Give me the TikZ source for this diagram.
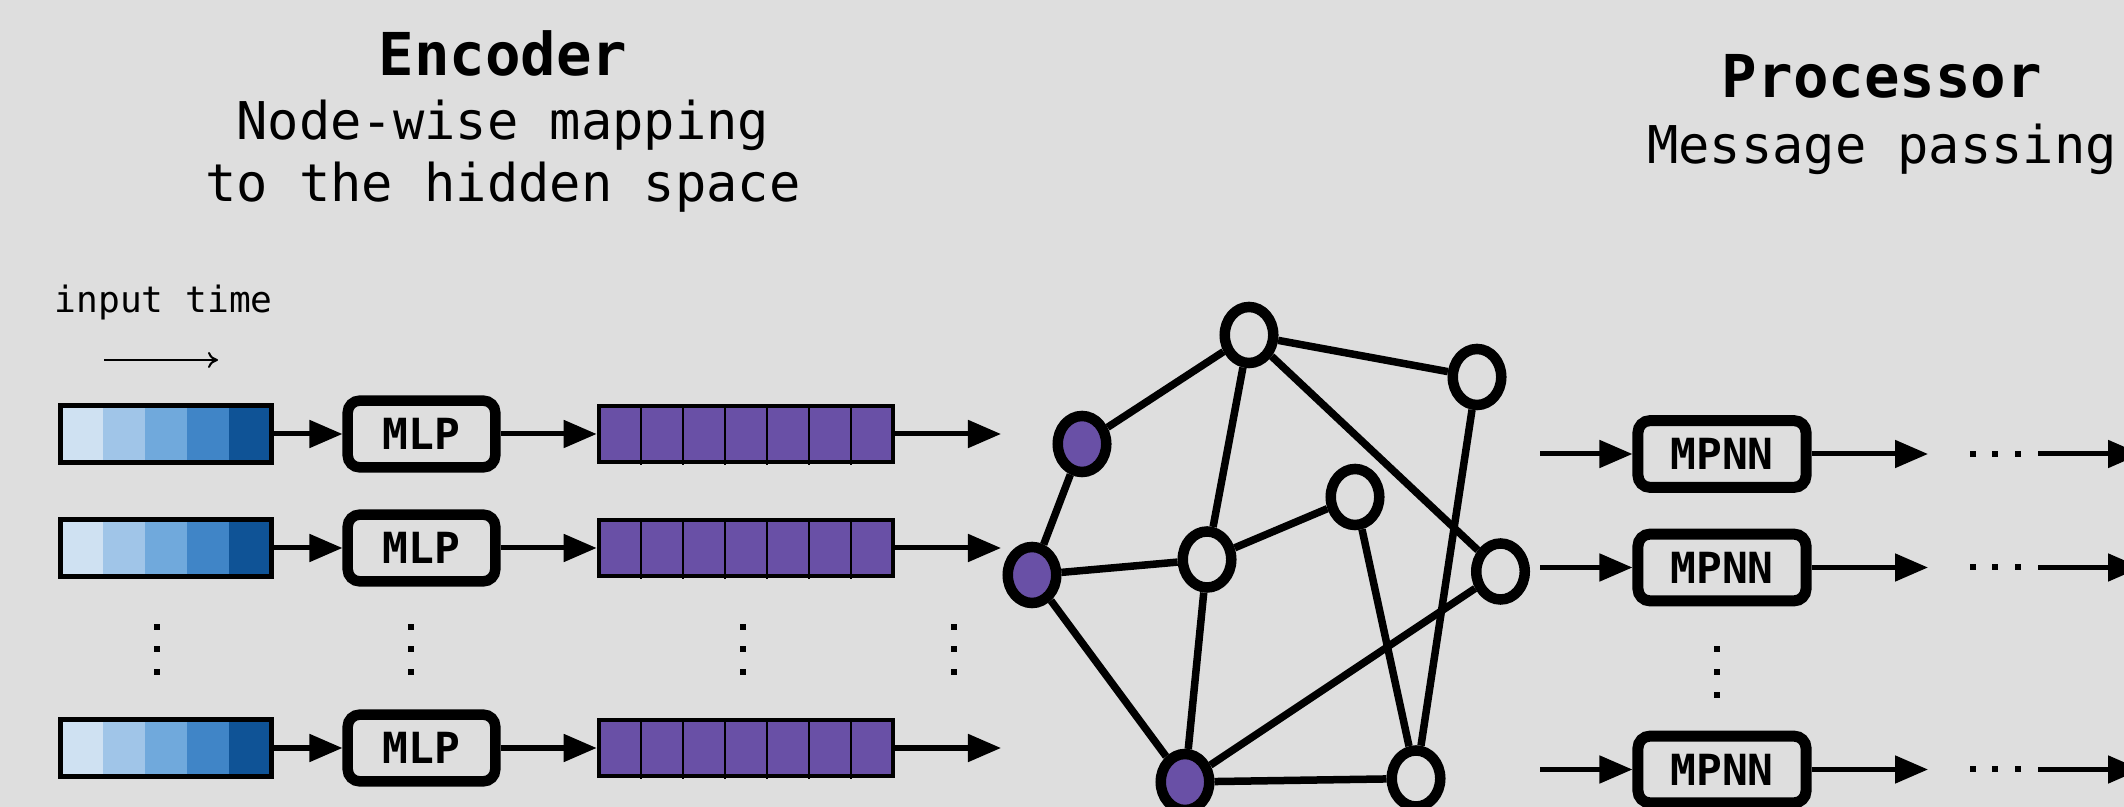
\documentclass[tikz,border=0pt]{standalone}
\usepackage{fontspec}
\usetikzlibrary{arrows.meta,shapes.geometric}
\newfontfamily\dvmono{DejaVu Sans Mono}
\definecolor{bgc}{HTML}{DEDEDE}
\definecolor{vpurple}{HTML}{6950A6}
\definecolor{blueA}{HTML}{CFE1F2}
\definecolor{blueB}{HTML}{A0C5E8}
\definecolor{blueC}{HTML}{70A9DC}
\definecolor{blueD}{HTML}{4085C7}
\definecolor{blueE}{HTML}{0F5396}
\begin{document}
\begin{tikzpicture}[x=0.01cm,y=-0.01cm,
  arr/.style={line width=0.05cm,-{Triangle[length=0.33cm,width=0.27cm]}},
  edge/.style={line width=0.075cm},
  gnode/.style={ellipse,draw,line width=0.105cm,minimum width=0.485cm,minimum height=0.56cm,inner sep=0pt},
  pnode/.style={gnode,fill=vpurple},
  wnode/.style={gnode,fill=bgc},
  boxlabel/.style={font=\dvmono\bfseries\fontsize{12.2pt}{14pt}\selectfont},
  mlpbox/.style={boxlabel,draw,line width=0.105cm,rounded corners=0.12cm,minimum width=1.475cm,minimum height=0.667cm,inner sep=0pt},
  mpnnbox/.style={boxlabel,draw,line width=0.11cm,rounded corners=0.12cm,minimum width=1.68cm,minimum height=0.667cm,inner sep=0pt},
  blueframe/.style={draw,line width=0.05cm,minimum width=2.1cm,minimum height=0.56cm,inner sep=0pt},
  purpleframe/.style={draw,line width=0.045cm,minimum width=2.94cm,minimum height=0.56cm,inner sep=0pt},
  titletext/.style={anchor=base,inner sep=0pt,font=\dvmono\bfseries\fontsize{16.8pt}{20pt}\selectfont},
  subtext/.style={anchor=base,inner sep=0pt,font=\dvmono\fontsize{14.8pt}{18pt}\selectfont},
  smalltext/.style={anchor=base west,inner sep=0pt,font=\dvmono\fontsize{10.3pt}{12pt}\selectfont}]

\useasboundingbox (0,0) rectangle (2124,807);
\clip (0,0) rectangle (2124,807);
\fill[bgc] (0,0) rectangle (2124,807);

% ---------- headings ----------
\node[titletext] (enct) at (503,76) {Encoder};
\node[subtext] (encs1) at (503,140) {Node-wise mapping};
\node[subtext] (encs2) at (503,202) {to the hidden space};
\node[titletext] (proct) at (1882,98) {Processor};
\node[subtext] (procs) at (1882,164) {Message passing};

% ---------- time direction ----------
\node[smalltext] (itime) at (54,313) {input time};
\coordinate (ta) at (104,360);
\coordinate (tb) at (218,360);
\draw[line width=0.02cm,-{To[length=0.1cm,width=0.16cm]}] (ta) -- (tb);

% ---------- encoder rows ----------
\foreach \r/\y in {1/434,2/548,3/748} {
  % input window, coloured by time step
  \foreach \c [count=\k from 0] in {blueA,blueB,blueC,blueD,blueE}
    \fill[\c] (61+42*\k,\y-28) rectangle ++(42,56);
  \node[blueframe] (in\r) at (166,\y) {};
  % node-wise MLP
  \node[mlpbox] (mlp\r) at (421.5,\y) {MLP};
  % hidden representation
  \fill[vpurple] (599,\y-28) rectangle ++(294,56);
  \foreach \k in {1,...,6}
    \draw[line width=0.02cm] (599+42*\k,\y-28) -- (599+42*\k,\y+31);
  \node[purpleframe] (hid\r) at (746,\y) {};
  \coordinate (eo\r) at (1001,\y);
  \draw[arr] (in\r.east) -- (mlp\r.west);
  \draw[arr] (mlp\r.east) -- (hid\r.west);
  \draw[arr] (hid\r.east) -- (eo\r);
}

% vertical ellipses of the encoder
\foreach \x in {157,410.5,743,954}
  \foreach \yy in {627,649.5,672}
    \fill (\x-3,\yy-3) rectangle ++(6,6);

% ---------- graph ----------
\node[pnode] (ga) at (1082,444) {};
\node[pnode] (gb) at (1032,575) {};
\node[pnode] (gc) at (1185,782) {};
\node[wnode] (w1) at (1249,335) {};
\node[wnode] (w2) at (1477,377) {};
\node[wnode] (w3) at (1207,559.5) {};
\node[wnode] (w4) at (1355,497) {};
\node[wnode] (w5) at (1500.5,571.5) {};
\node[wnode] (w6) at (1416,778.5) {};
\foreach \a/\b in {ga/w1,ga/gb,gb/w3,gb/gc,w1/w2,w1/w3,w1/w5,w2/w6,w3/w4,w3/gc,w4/w6,w5/gc,gc/w6}
  \draw[edge] (\a) -- (\b);

% ---------- processor rows ----------
\foreach \r/\y in {1/454,2/567.5,3/769.5} {
  \coordinate (pi\r) at (1540,\y);
  \node[mpnnbox] (mp\r) at (1722,\y) {MPNN};
  \coordinate (po\r) at (1928,\y);
  \coordinate (pn\r) at (2038,\y);
  \coordinate (pe\r) at (2141,\y);
  \draw[arr] (pi\r) -- (mp\r.west);
  \draw[arr] (mp\r.east) -- (po\r);
  \foreach \x in {1973,1995,2018}
    \fill (\x-3,\y-3) rectangle ++(6,6);
  \draw[arr] (pn\r) -- (pe\r);
}
\foreach \yy in {649.5,672,695}
  \fill (1717-3,\yy-3) rectangle ++(6,6);

\end{tikzpicture}
\end{document}
